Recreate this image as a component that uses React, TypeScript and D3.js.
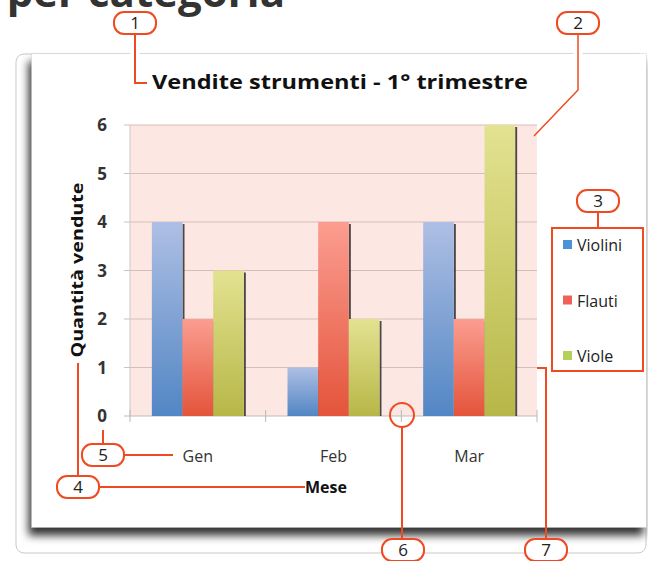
import React from 'react';
import { scaleBand, scaleLinear } from 'd3';

const mesi = ['Gen', 'Feb', 'Mar'];
const serie = ['Violini', 'Flauti', 'Viole'];
const violini = [4, 1, 4];
const flauti = [2, 4, 2];
const viole = [3, 2, 6];
const yTicks = [0, 1, 2, 3, 4, 5, 6];

const valori = [violini, flauti, viole];
const colori = [
  { top: '#aebfe4', bottom: '#5286c4', swatch: '#4b93d8' },
  { top: '#fb9d90', bottom: '#e4543b', swatch: '#ef6059' },
  { top: '#e3e291', bottom: '#b7b748', swatch: '#b5cf5b' },
];

const ORANGE = '#f04a22';
const FONT = '"Open Sans", "Liberation Sans", sans-serif';

function Pill({ cx, cy, label }: { cx: number; cy: number; label: string }) {
  return (
    <g>
      <rect x={cx - 21} y={cy - 11} width={42} height={22} rx={10} fill="#fff" stroke={ORANGE} strokeWidth={2} />
      <text x={cx} y={cy + 6} textAnchor="middle" fontSize={17} fill="#222" fontFamily={FONT}>
        {label}
      </text>
    </g>
  );
}

export default function App() {
  const x = scaleBand<string>().domain(mesi).range([130, 537]).paddingInner(0.322).paddingOuter(0.161);
  const xs = scaleBand<string>().domain(serie).range([0, x.bandwidth()]);
  const y = scaleLinear().domain([0, 6]).range([416, 125]);
  const step = x.step();
  const boundaries = [0, 1, 2, 3].map((i) => 130 + i * step);

  return (
    <svg width={648} height={561} style={{ position: 'absolute', left: 0, top: 0 }}>
      <defs>
        {colori.map((c, i) => (
          <linearGradient key={i} id={`g${i}`} x1="0" y1="0" x2="0" y2="1">
            <stop offset="0%" stopColor={c.top} />
            <stop offset="100%" stopColor={c.bottom} />
          </linearGradient>
        ))}
        <filter id="shadow" x="-10%" y="-10%" width="120%" height="130%">
          <feDropShadow dx={-3} dy={8} stdDeviation={4} floodColor="#000" floodOpacity={0.8} />
        </filter>
      </defs>

      <rect width={648} height={561} fill="#fff" />

      {/* heading cut off at the top */}
      <text x={285} y={7} textAnchor="end" fontSize={42} fontWeight="bold" fill="#333" fontFamily={FONT}>
        per categoria
      </text>

      {/* outer frame */}
      <rect x={16} y={54} width={630} height={499} rx={8} fill="none" stroke="#c9c9c9" strokeWidth={1} />

      {/* chart box */}
      <rect x={32} y={54} width={614} height={473} fill="#fff" stroke="#d0d0d0" filter="url(#shadow)" />
      <rect x={32} y={54} width={614} height={473} fill="#fff" />

      {/* title */}
      <text x={152} y={89} fontSize={19} fontWeight="bold" fill="#111" fontFamily={FONT} textLength={376} lengthAdjust="spacingAndGlyphs">
        Vendite strumenti - 1° trimestre
      </text>

      {/* plot area */}
      <rect x={130} y={125} width={407} height={291} fill="#fde7e3" />
      {yTicks.map((t) => (
        <g key={t}>
          <line x1={124} x2={537} y1={y(t)} y2={y(t)} stroke={t === 0 ? '#bdbdbd' : '#d9bcb7'} strokeWidth={1} />
          <text x={102} y={y(t) + 6} textAnchor="middle" fontSize={17} fontWeight="bold" fill="#333" fontFamily={FONT}>
            {t}
          </text>
        </g>
      ))}
      <line x1={130} x2={130} y1={125} y2={416} stroke="#c8c8c8" />
      {boundaries.map((b, i) => (
        <line key={i} x1={b} x2={b} y1={410} y2={422} stroke="#b8b8b8" />
      ))}

      {/* bars */}
      {serie.map((s, si) => (
        <g key={s}>
          {mesi.map((m, mi) => {
            const bx = (x(m) ?? 0) + (xs(s) ?? 0);
            const v = valori[si][mi];
            const top = y(v);
            const w = xs.bandwidth();
            return (
              <g key={m}>
                <rect x={bx + w} y={top + 2} width={2} height={y(0) - top - 2} fill="#2b2b2b" opacity={0.85} />
                <rect x={bx} y={top} width={w} height={y(0) - top} fill={`url(#g${si})`} />
              </g>
            );
          })}
        </g>
      ))}

      {/* axis labels */}
      {mesi.map((m) => (
        <text key={m} x={(x(m) ?? 0) + x.bandwidth() / 2} y={462} textAnchor="middle" fontSize={16} fill="#333" fontFamily={FONT}>
          {m}
        </text>
      ))}
      <text x={305} y={493} fontSize={16} fontWeight="bold" fill="#111" fontFamily={FONT}>
        Mese
      </text>
      <text
        transform="translate(83,270) rotate(-90)"
        textAnchor="middle"
        fontSize={16}
        fontWeight="bold"
        fill="#111"
        fontFamily={FONT}
        textLength={175}
        lengthAdjust="spacingAndGlyphs"
      >
        Quantità vendute
      </text>

      {/* legend */}
      {serie.map((s, i) => {
        const ly = 245 + i * 55.5;
        return (
          <g key={s}>
            <rect x={563} y={ly - 5} width={9} height={9} fill={colori[i].swatch} />
            <text x={577} y={ly + 6} fontSize={16} fill="#222" fontFamily={FONT}>
              {s}
            </text>
          </g>
        );
      })}

      {/* callouts */}
      <g fill="none" stroke={ORANGE} strokeWidth={2}>
        <line x1={135} x2={135} y1={48} y2={60} stroke="#fff" strokeWidth={9} />
        <line x1={578} x2={578} y1={48} y2={60} stroke="#fff" strokeWidth={9} />
        <polyline points="135,34 135,83 147,83" />
        <polyline points="578,34 578,90 534,136" strokeWidth={1.5} />
        <rect x={552} y={228} width={91} height={143} />
        <line x1={598} x2={598} y1={212} y2={228} />
        <polyline points="78,363 78,476" />
        <line x1={100} x2={305} y1={487} y2={487} />
        <line x1={103} x2={103} y1={430} y2={443} />
        <line x1={125} x2={173} y1={455} y2={455} />
        <circle cx={402} cy={415} r={12} />
        <line x1={402} x2={402} y1={427} y2={539} />
        <polyline points="537,368 546,368 546,539" />
      </g>
      <Pill cx={135} cy={23} label="1" />
      <Pill cx={578} cy={23} label="2" />
      <Pill cx={598} cy={201} label="3" />
      <Pill cx={78} cy={487} label="4" />
      <Pill cx={103} cy={455} label="5" />
      <Pill cx={403} cy={550} label="6" />
      <Pill cx={546} cy={550} label="7" />
    </svg>
  );
}
